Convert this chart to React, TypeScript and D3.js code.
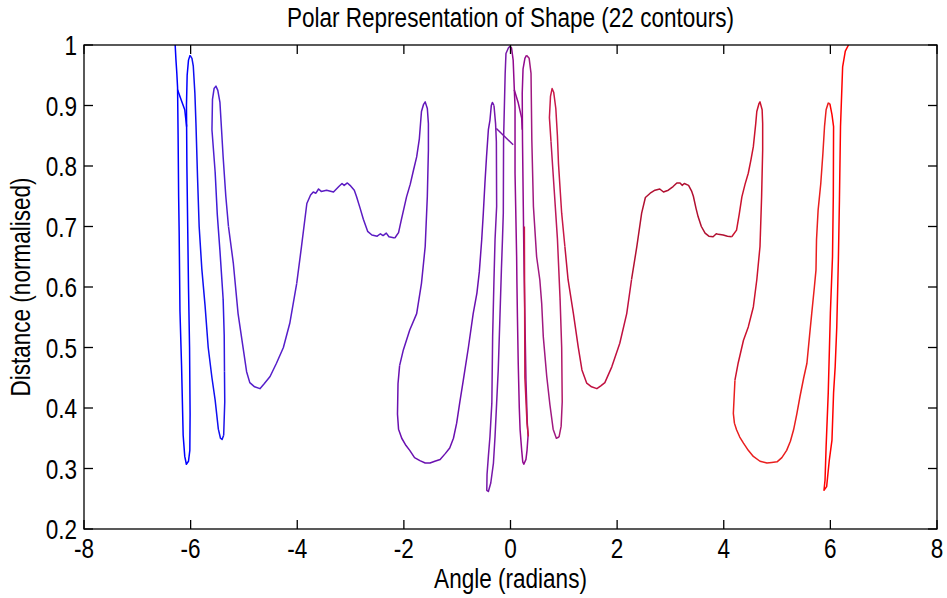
import React from "react";
import * as d3 from "d3";

const W = 947;
const H = 598;

const titleText = "Polar Representation of Shape (22 contours)";
const xLabelText = "Angle (radians)";
const yLabelText = "Distance (normalised)";

const xTicks = [-8, -6, -4, -2, 0, 2, 4, 6, 8];
const xTickLabels = ["-8", "-6", "-4", "-2", "0", "2", "4", "6", "8"];
const yTicks = [0.2, 0.3, 0.4, 0.5, 0.6, 0.7, 0.8, 0.9, 1.0];
const yTickLabels = ["0.2", "0.3", "0.4", "0.5", "0.6", "0.7", "0.8", "0.9", "1"];

// 22 contour pieces, traced in order (angle in radians, normalised distance)
const contourAngles: number[][] = [
  [-6.29, -6.275, -6.26, -6.245, -6.235, -6.225, -6.215, -6.2, -6.17, -6.14, -6.11, -6.08, -6.04, -6.015, -6.01, -6.02, -6.04, -6.055, -6.07, -6.078, -6.065, -6.04, -6.01],
  [-5.975, -5.95, -5.92, -5.9, -5.87, -5.84, -5.79, -5.73, -5.67, -5.6, -5.54, -5.48, -5.44, -5.41, -5.38],
  [-5.36, -5.365],
  [-5.37, -5.39],
  [-5.45, -5.5, -5.54],
  [-5.6, -5.59, -5.56, -5.525, -5.49, -5.45, -5.42, -5.39, -5.34, -5.29],
  [-5.2, -5.11, -5.01, -4.95, -4.89, -4.8, -4.7, -4.62, -4.51, -4.39, -4.26, -4.14, -4.01],
  [-3.92, -3.82, -3.75, -3.7, -3.65, -3.6, -3.55, -3.45, -3.32, -3.22, -3.16, -3.12, -3.06, -3.01, -2.93, -2.89, -2.82, -2.76, -2.68, -2.6, -2.5, -2.44, -2.39, -2.33, -2.28, -2.17],
  [-2.1, -2.05, -1.95, -1.88, -1.82, -1.76, -1.71, -1.67, -1.63, -1.6, -1.56, -1.54, -1.54, -1.56, -1.6, -1.67, -1.76, -1.89, -2.01, -2.08],
  [-2.11, -2.12, -2.1, -2.04, -1.96, -1.89, -1.8, -1.7, -1.6, -1.51, -1.42, -1.32, -1.22, -1.14, -1.07, -1.01, -0.95, -0.885, -0.79, -0.7, -0.63, -0.585, -0.54, -0.51, -0.48, -0.45, -0.415, -0.385, -0.36, -0.34, -0.31],
  [-0.28, -0.265, -0.26, -0.29, -0.31, -0.335, -0.35, -0.385, -0.415, -0.44, -0.445, -0.415, -0.37, -0.32, -0.29, -0.26, -0.23, -0.2, -0.17, -0.15, -0.135, -0.13, -0.1, -0.085, -0.04, -0.01],
  [0.02, 0.05, 0.07, 0.085, 0.085, 0.1, 0.115, 0.12, 0.13, 0.145, 0.165, 0.18, 0.21, 0.23, 0.25, 0.29, 0.31, 0.33, 0.315, 0.29, 0.27, 0.255, 0.24, 0.225, 0.22, 0.235, 0.27, 0.3],
  [0.35, 0.385, 0.4, 0.43, 0.49, 0.55, 0.585, 0.615, 0.68, 0.74, 0.8, 0.86, 0.91],
  [0.95, 0.97],
  [0.96, 0.93],
  [0.88, 0.82, 0.76],
  [0.73, 0.75, 0.78, 0.81, 0.85, 0.88, 0.9, 0.96, 1.02],
  [1.08, 1.18, 1.27, 1.34, 1.43, 1.52, 1.62, 1.7, 1.77, 1.9, 2.05, 2.18, 2.27],
  [2.37, 2.46, 2.53, 2.62, 2.71, 2.8, 2.87, 2.96, 3.05, 3.12, 3.18, 3.22, 3.26, 3.34, 3.4, 3.43, 3.48, 3.52, 3.58, 3.65, 3.72, 3.8, 3.86, 3.9, 3.99, 4.07, 4.15],
  [4.24, 4.29, 4.34, 4.4, 4.46, 4.51, 4.555, 4.6, 4.62, 4.66, 4.68, 4.72, 4.73, 4.73, 4.71, 4.68, 4.62, 4.555, 4.46, 4.37, 4.27, 4.21],
  [4.18, 4.2, 4.24, 4.3, 4.37, 4.46, 4.555, 4.68, 4.81, 4.9, 5.0, 5.09, 5.18, 5.25, 5.31, 5.37, 5.43, 5.5, 5.56, 5.61, 5.65, 5.7, 5.73, 5.74, 5.77, 5.82, 5.86, 5.89, 5.92, 5.96, 5.99],
  [6.03, 6.06, 6.055, 6.04, 6.0, 5.96, 5.92, 5.9, 5.88, 5.93, 5.98, 6.03, 6.06, 6.09, 6.12, 6.15, 6.17, 6.19, 6.23, 6.28, 6.34],
];

const contourDistances: number[][] = [
  [1.0, 0.975, 0.955, 0.93, 0.85, 0.75, 0.69, 0.56, 0.47, 0.355, 0.32, 0.307, 0.312, 0.33, 0.39, 0.5, 0.6, 0.7, 0.8, 0.9, 0.95, 0.975, 0.983],
  [0.978, 0.965, 0.92, 0.87, 0.78, 0.7, 0.63, 0.57, 0.5, 0.45, 0.413, 0.365, 0.35, 0.348, 0.355],
  [0.41, 0.46],
  [0.52, 0.58],
  [0.66, 0.72, 0.79],
  [0.86, 0.91, 0.928, 0.932, 0.925, 0.905, 0.86, 0.815, 0.75, 0.7],
  [0.64, 0.556, 0.496, 0.46, 0.442, 0.435, 0.432, 0.44, 0.452, 0.474, 0.5, 0.54, 0.606],
  [0.667, 0.738, 0.752, 0.757, 0.755, 0.762, 0.758, 0.76, 0.757, 0.766, 0.771, 0.768, 0.772, 0.768, 0.76, 0.75, 0.73, 0.712, 0.692, 0.686, 0.684, 0.688, 0.685, 0.689, 0.683, 0.681],
  [0.69, 0.71, 0.749, 0.77, 0.793, 0.815, 0.845, 0.89, 0.902, 0.906, 0.895, 0.87, 0.826, 0.75, 0.667, 0.606, 0.556, 0.529, 0.496, 0.47],
  [0.44, 0.39, 0.365, 0.35, 0.338, 0.33, 0.318, 0.313, 0.309, 0.309, 0.312, 0.315, 0.325, 0.334, 0.35, 0.375, 0.41, 0.446, 0.5, 0.556, 0.59, 0.625, 0.678, 0.722, 0.771, 0.815, 0.86, 0.876, 0.9, 0.905, 0.9],
  [0.87, 0.84, 0.733, 0.678, 0.612, 0.518, 0.408, 0.353, 0.32, 0.29, 0.264, 0.262, 0.276, 0.309, 0.353, 0.408, 0.463, 0.545, 0.63, 0.68, 0.722, 0.843, 0.953, 0.986, 0.995, 0.998],
  [0.995, 0.975, 0.93, 0.898, 0.788, 0.72, 0.65, 0.61, 0.551, 0.474, 0.4, 0.364, 0.33, 0.311, 0.307, 0.315, 0.33, 0.355, 0.375, 0.446, 0.551, 0.625, 0.733, 0.843, 0.92, 0.96, 0.978, 0.983],
  [0.978, 0.953, 0.843, 0.733, 0.65, 0.612, 0.573, 0.518, 0.452, 0.405, 0.365, 0.35, 0.352],
  [0.37, 0.41],
  [0.5, 0.58],
  [0.68, 0.76, 0.84],
  [0.88, 0.915, 0.928, 0.922, 0.895, 0.85, 0.804, 0.722, 0.667],
  [0.612, 0.556, 0.501, 0.463, 0.441, 0.435, 0.432, 0.437, 0.442, 0.468, 0.507, 0.556, 0.612],
  [0.667, 0.722, 0.748, 0.755, 0.76, 0.762, 0.757, 0.76, 0.766, 0.772, 0.772, 0.768, 0.771, 0.768, 0.758, 0.75, 0.73, 0.716, 0.7, 0.689, 0.684, 0.683, 0.688, 0.687, 0.686, 0.684, 0.683],
  [0.694, 0.72, 0.749, 0.77, 0.788, 0.81, 0.832, 0.87, 0.89, 0.903, 0.906, 0.893, 0.87, 0.826, 0.749, 0.667, 0.612, 0.567, 0.534, 0.512, 0.474, 0.446],
  [0.391, 0.375, 0.364, 0.352, 0.342, 0.33, 0.32, 0.312, 0.309, 0.31, 0.311, 0.318, 0.33, 0.345, 0.364, 0.39, 0.419, 0.45, 0.474, 0.52, 0.556, 0.6, 0.628, 0.678, 0.727, 0.771, 0.821, 0.865, 0.893, 0.904, 0.903],
  [0.885, 0.865, 0.75, 0.65, 0.557, 0.425, 0.336, 0.281, 0.264, 0.27, 0.314, 0.347, 0.425, 0.468, 0.534, 0.645, 0.744, 0.865, 0.964, 0.99, 1.0],
];

// small stray strokes (joins between contour pieces)
const extraAngles: number[][] = [
  [-6.245, -6.18, -6.11, -6.075],
  [-0.265, 0.05],
  [0.07, 0.146, 0.21, 0.22],
  [0.26, 0.27, 0.31, 0.335],
];
const extraDistances: number[][] = [
  [0.926, 0.91, 0.893, 0.865],
  [0.862, 0.835],
  [0.926, 0.904, 0.879, 0.86],
  [0.7, 0.45, 0.375, 0.353],
];
const extraContour = [0, 10, 11, 16];

// colour ramp for contour index (blue -> purple -> crimson -> red)
const colorStops = [0, 0.05, 0.24, 0.33, 0.43, 0.48, 0.52, 0.57, 0.7, 0.76, 0.81, 0.86, 0.9, 0.95, 1];
const colorRange = ["#0000ff", "#1010f0", "#5020d0", "#5a1cc4", "#6a10b0", "#7818a8", "#900890", "#a01880", "#b81860", "#c81848", "#c01040", "#b01030", "#c81030", "#e82020", "#ff0000"];

const FONT = "'Liberation Sans', Arial, Helvetica, sans-serif";
const FS = 27.5;
const SX = 0.82;

export default function App() {
  const left = 84, right = 937, top = 45, bottom = 529;
  const x = d3.scaleLinear().domain([-8, 8]).range([left, right]);
  const y = d3.scaleLinear().domain([0.2, 1]).range([bottom, top]);
  const ramp = d3.scaleLinear<string>().domain(colorStops).range(colorRange).interpolate(d3.interpolateRgb);
  const color = (i: number) => ramp(i / 21);
  const line = d3
    .line<[number, number]>()
    .x((d) => x(d[0]))
    .y((d) => y(d[1]));

  const contourPaths = contourAngles.map((angles, i) => {
    const pts: [number, number][] = angles.map((a, j) => [a, contourDistances[i][j]]);
    if (i > 0) {
      const pa = contourAngles[i - 1];
      const pd = contourDistances[i - 1];
      pts.unshift([pa[pa.length - 1], pd[pd.length - 1]]);
    }
    return { d: line(pts) || "", c: color(i) };
  });
  const extraPaths = extraAngles.map((angles, i) => ({
    d: line(angles.map((a, j) => [a, extraDistances[i][j]] as [number, number])) || "",
    c: color(extraContour[i]),
  }));

  const tickLen = 9;

  return (
    <svg
      width={W}
      height={H}
      style={{ position: "absolute", left: 0, top: 0, background: "#fff" }}
    >
      <rect x={0} y={0} width={W} height={H} fill="#fff" />
      <defs>
        <clipPath id="plotClip">
          <rect x={left} y={top} width={right - left} height={bottom - top} />
        </clipPath>
      </defs>
      <g clipPath="url(#plotClip)" fill="none" strokeWidth={1.5} strokeLinejoin="round">
        {contourPaths.map((p, i) => (
          <path key={"c" + i} d={p.d} stroke={p.c} />
        ))}
        {extraPaths.map((p, i) => (
          <path key={"e" + i} d={p.d} stroke={p.c} />
        ))}
      </g>
      <rect
        x={left}
        y={top}
        width={right - left}
        height={bottom - top}
        fill="none"
        stroke="#000"
        strokeWidth={1.3}
      />
      <g stroke="#000" strokeWidth={1.3}>
        {xTicks.map((t) => (
          <g key={"xt" + t}>
            <line x1={x(t)} x2={x(t)} y1={bottom} y2={bottom - tickLen} />
            <line x1={x(t)} x2={x(t)} y1={top} y2={top + tickLen} />
          </g>
        ))}
        {yTicks.map((t) => (
          <g key={"yt" + t}>
            <line x1={left} x2={left + tickLen} y1={y(t)} y2={y(t)} />
            <line x1={right} x2={right - tickLen} y1={y(t)} y2={y(t)} />
          </g>
        ))}
      </g>
      <g fontFamily={FONT} fontSize={FS} fill="#000">
        {xTicks.map((t, i) => (
          <text
            key={"xl" + t}
            textAnchor="middle"
            transform={`translate(${x(t)},${bottom + 29}) scale(${SX},1)`}
          >
            {xTickLabels[i]}
          </text>
        ))}
        {yTicks.map((t, i) => (
          <text
            key={"yl" + t}
            textAnchor="end"
            transform={`translate(${left - 7},${y(t) + 10}) scale(${SX},1)`}
          >
            {yTickLabels[i]}
          </text>
        ))}
        <text
          textAnchor="middle"
          transform={`translate(${(left + right) / 2},27) scale(${SX},1)`}
        >
          {titleText}
        </text>
        <text
          textAnchor="middle"
          transform={`translate(${(left + right) / 2},588) scale(${SX},1)`}
        >
          {xLabelText}
        </text>
        <text
          textAnchor="middle"
          transform={`translate(30,${(top + bottom) / 2}) rotate(-90) scale(${SX},1)`}
        >
          {yLabelText}
        </text>
      </g>
    </svg>
  );
}
